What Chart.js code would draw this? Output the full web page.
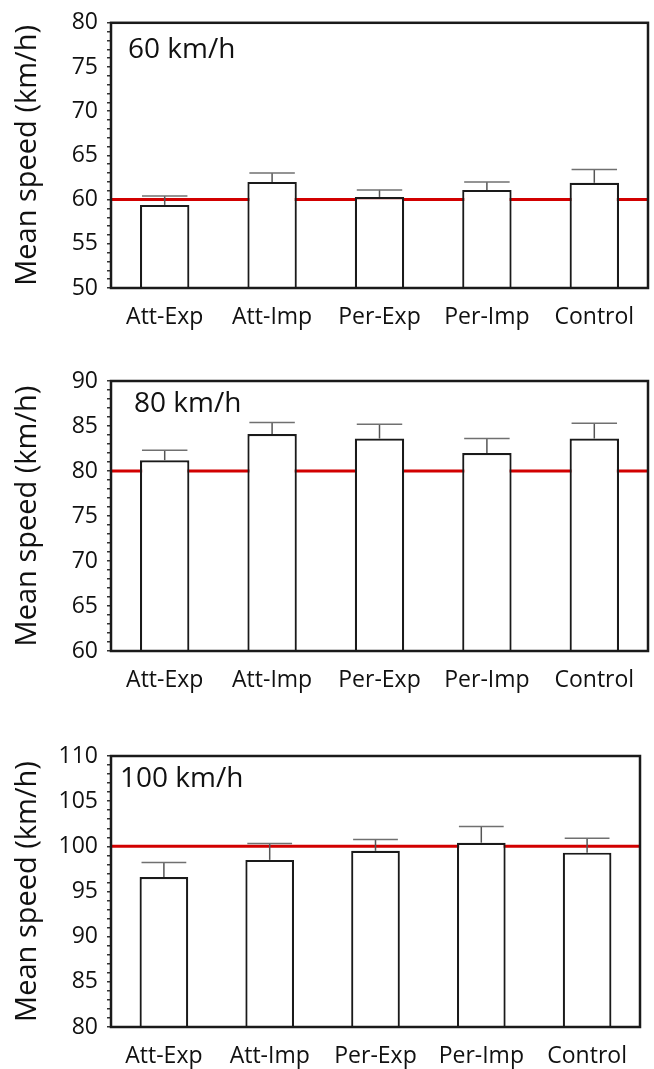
<!DOCTYPE html>
<html><head><meta charset="utf-8">
<script src="https://cdn.jsdelivr.net/npm/chart.js@4.4.0/dist/chart.umd.min.js"></script>
<style>
html,body{margin:0;padding:0;background:#fff;}
#wrap{position:relative;width:654px;height:1069px;overflow:hidden;}
canvas{position:absolute;left:0;}
</style></head><body>
<div id="wrap">
<canvas id="c1" width="654" height="345" style="top:0px"></canvas>
<canvas id="c2" width="654" height="360" style="top:345px"></canvas>
<canvas id="c3" width="654" height="364" style="top:705px"></canvas>
</div>
<script>
// ---- data ----
const categories = ['Att-Exp', 'Att-Imp', 'Per-Exp', 'Per-Imp', 'Control'];
const panelLabels = ['60 km/h', '80 km/h', '100 km/h'];
const speedLimits = [60, 80, 100];
const means60 = [59.4, 62.0, 60.3, 61.1, 61.9];
const errs60 = [1.0, 1.0, 0.8, 0.9, 1.5];
const means80 = [81.2, 84.1, 83.6, 82.0, 83.6];
const errs80 = [1.1, 1.3, 1.6, 1.6, 1.7];
const means100 = [96.6, 98.5, 99.5, 100.4, 99.3];
const errs100 = [1.6, 1.8, 1.25, 1.8, 1.6];
const yRanges = [[50, 80], [60, 90], [80, 110]];
const yTitle = 'Mean speed (km/h)';

Chart.defaults.font.family = "'Open Sans', sans-serif";
Chart.defaults.color = '#111';

const decoPlugin = {
  id: 'deco',
  beforeDatasetsDraw(chart, args, opts) {
    const {ctx, chartArea: a, scales: {y}} = chart;
    const yy = y.getPixelForValue(opts.ref);
    ctx.save();
    ctx.strokeStyle = '#d20000';
    ctx.lineWidth = 3;
    ctx.beginPath(); ctx.moveTo(a.left, yy); ctx.lineTo(a.right, yy); ctx.stroke();
    ctx.restore();
  },
  afterDatasetsDraw(chart, args, opts) {
    const {ctx, scales: {y}} = chart;
    const meta = chart.getDatasetMeta(0);
    const vals = chart.data.datasets[0].data;
    ctx.save();
    meta.data.forEach((bar, i) => {
      const top = y.getPixelForValue(vals[i]);
      const hi = y.getPixelForValue(vals[i] + opts.errors[i]);
      const half = bar.width * 0.46;
      ctx.strokeStyle = '#555';
      ctx.lineWidth = 1.5;
      ctx.beginPath(); ctx.moveTo(bar.x, top); ctx.lineTo(bar.x, hi); ctx.stroke();
      ctx.strokeStyle = '#707070';
      ctx.beginPath(); ctx.moveTo(bar.x - half, hi); ctx.lineTo(bar.x + half, hi); ctx.stroke();
    });
    ctx.restore();
  },
  afterDraw(chart, args, opts) {
    const {ctx, chartArea: a} = chart;
    ctx.save();
    ctx.strokeStyle = '#1a1a1a';
    ctx.lineWidth = 2.5;
    ctx.strokeRect(a.left, a.top, a.right - a.left, a.bottom - a.top);
    ctx.font = "28px 'Open Sans', sans-serif";
    ctx.fillStyle = '#111';
    ctx.textBaseline = 'alphabetic';
    ctx.fillText(opts.label, a.left + opts.dx, a.top + opts.dy);
    ctx.restore();
  }
};

function makePanel(id, means, errs, idx, lay) {
  new Chart(document.getElementById(id), {
    type: 'bar',
    data: {
      labels: categories,
      datasets: [{
        data: means,
        backgroundColor: '#ffffff',
        borderColor: '#1a1a1a',
        borderWidth: 2.2,
        barPercentage: 0.46,
        categoryPercentage: 1.0
      }]
    },
    options: {
      responsive: false,
      maintainAspectRatio: false,
      animation: false,
      layout: {padding: {top: lay.top, right: lay.right, left: 0, bottom: 0}},
      plugins: {
        legend: {display: false},
        tooltip: {enabled: false},
        deco: {ref: speedLimits[idx], errors: errs, label: panelLabels[idx], dx: lay.dx, dy: lay.dy}
      },
      scales: {
        x: {
          afterFit(s) { s.height = lay.xh; },
          ticks: {color: '#111', font: {size: 23}, padding: 16, maxRotation: 0, autoSkip: false},
          grid: {display: false, drawTicks: false},
          border: {display: false}
        },
        y: {
          min: yRanges[idx][0],
          max: yRanges[idx][1],
          afterFit(s) { s.width = 111; },
          ticks: {
            stepSize: 1, autoSkip: false, maxTicksLimit: 100, padding: 9,
            color: '#111', font: {size: 23},
            callback: v => (Math.round(v) % 5 === 0 ? String(Math.round(v)) : '')
          },
          grid: {display: true, drawOnChartArea: false, drawTicks: true, tickLength: 4, color: '#333', lineWidth: 1.5},
          border: {display: false},
          title: {display: true, text: yTitle, color: '#111', font: {size: 29}, padding: {top: 10, bottom: 0}}
        }
      }
    },
    plugins: [decoPlugin]
  });
}

makePanel('c1', means60, errs60, 0, {top: 18, right: 6, xh: 57, dx: 17, dy: 35});
makePanel('c2', means80, errs80, 1, {top: 36, right: 6, xh: 54, dx: 23, dy: 31});
makePanel('c3', means100, errs100, 2, {top: 51, right: 14, xh: 42, dx: 9, dy: 31});
</script>
</body></html>
